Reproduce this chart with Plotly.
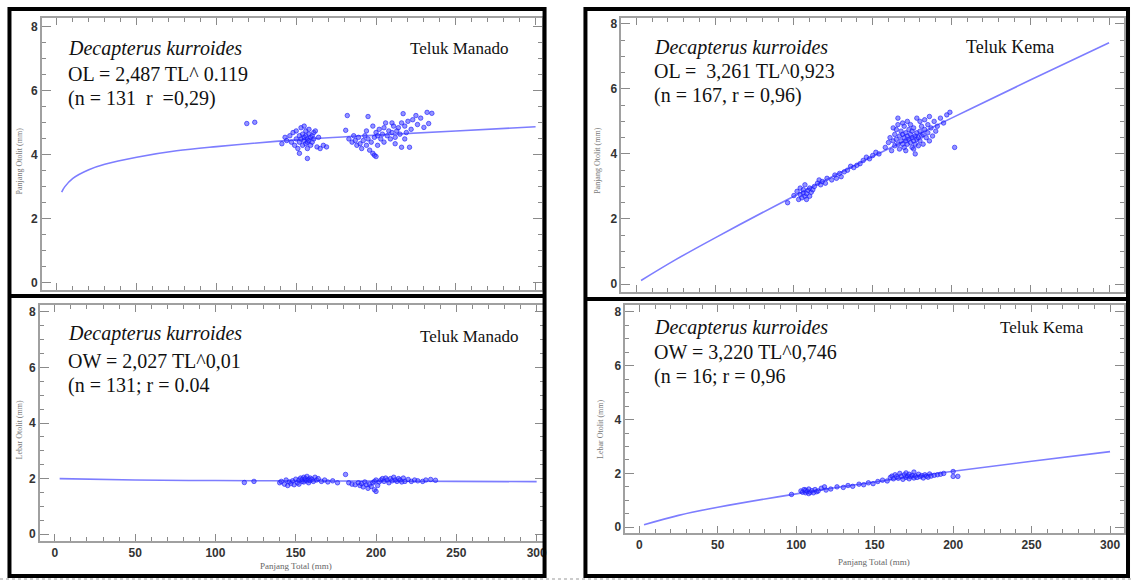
import plotly.graph_objects as go

W, H = 1134, 581

# ---------------- data ----------------
# Top-left: Teluk Manado, otolith length vs total length
tl_manado_ol = [119, 124,
                141, 143, 144, 146, 147, 148, 149, 150, 150, 151, 152, 152, 153, 153, 154, 154, 155, 155,
                155, 156, 156, 156, 157, 157, 157, 158, 158, 158, 159, 159, 160, 160, 161, 161, 162, 163,
                164, 165, 167, 169, 157, 152,
                181, 182, 195, 183, 185, 187, 188, 189, 190, 191, 192, 193, 194, 195, 196, 197, 198, 199,
                199, 200, 201, 201, 202, 203, 204, 205, 205, 206, 207, 208, 209, 210, 210, 211, 212, 213,
                214, 215, 216, 216, 217, 218, 219, 220, 221, 222, 223, 225, 226, 228, 230, 232, 233, 235,
                200, 198, 194, 186, 212, 218]
ol_manado = [4.98, 5.02,
             4.35, 4.55, 4.45, 4.60, 4.40, 4.70, 4.30, 4.50, 4.75, 4.20, 4.60, 4.40, 4.85, 4.50, 4.30, 4.65, 4.45, 4.55,
             4.90, 4.35, 4.60, 4.75, 4.40, 4.50, 4.20, 4.65, 4.45, 4.80, 4.30, 4.55, 4.60, 4.40, 4.70, 4.50, 4.75, 4.25,
             4.55, 4.20, 4.30, 4.25, 3.89, 4.05,
             4.77, 5.23, 5.20, 4.50, 4.40, 4.45, 4.30, 4.55, 4.35, 4.20, 4.45, 4.60, 4.30, 4.50, 4.15, 4.40, 4.05, 3.99,
             4.55, 4.70, 4.30, 4.60, 4.80, 4.50, 4.65, 4.40, 4.85, 5.00, 4.60, 4.75, 4.50, 5.00, 4.70, 4.90, 4.55, 4.75,
             4.85, 4.65, 4.24, 5.00, 5.29, 4.90, 4.70, 5.05, 4.24, 4.80, 5.10, 5.23, 4.95, 5.15, 4.86, 5.33, 4.98, 5.30,
             3.95, 4.90, 4.75, 4.60, 4.35, 4.50]
fit_tl_manado_ol = [3, 5, 10, 20, 30, 50, 75, 100, 150, 200, 250, 300]
fit_ol_manado = [2.84, 3.01, 3.27, 3.54, 3.71, 3.93, 4.13, 4.26, 4.47, 4.62, 4.75, 4.88]

# Top-right: Teluk Kema, otolith length vs total length
tl_kema_ol = [96, 100, 102, 103, 104, 104, 105, 106, 106, 107, 107, 108, 108, 109, 110, 110, 111, 112, 113, 115,
              116, 117, 118, 120, 121, 124, 126, 127, 129, 130, 132, 134, 136, 138, 140, 142, 144, 146, 148, 150,
              152, 154,
              158, 160, 161, 162, 163, 164, 164, 165, 165, 166, 166, 167, 167, 168, 168, 169, 169, 170, 170, 170,
              171, 171, 172, 172, 172, 173, 173, 174, 174, 174, 175, 175, 175, 176, 176, 177, 177, 178, 178, 178,
              179, 179, 180, 180, 181, 181, 182, 182, 183, 183, 184, 185, 185, 186, 187, 188, 189, 190, 191, 193,
              195, 197, 199, 202, 176, 169, 166, 163, 186, 180, 171, 177]
ol_kema = [2.50, 2.72, 2.85, 2.60, 2.95, 2.75, 2.65, 2.80, 2.90, 2.70, 3.05, 2.78, 2.60, 2.88, 2.70, 2.95, 2.82, 2.90, 3.00, 3.10,
           3.20, 3.05, 3.15, 3.10, 3.25, 3.20, 3.35, 3.25, 3.40, 3.30, 3.45, 3.50, 3.62, 3.58, 3.65, 3.70, 3.80, 3.90, 3.85, 3.95,
           4.05, 4.00,
           4.20, 4.35, 4.50, 4.10, 4.40, 4.60, 4.25, 4.75, 4.45, 4.30, 4.90, 4.55, 4.15, 4.40, 4.70, 4.60, 4.30, 4.50, 4.85, 4.20,
           4.40, 4.65, 4.55, 4.30, 5.00, 4.45, 4.75, 4.35, 4.60, 4.90, 4.50, 4.20, 4.70, 4.40, 4.80, 4.55, 4.30, 4.65, 4.45, 5.10,
           4.50, 4.25, 4.70, 4.40, 4.85, 4.55, 4.60, 4.30, 4.75, 5.05, 4.50, 4.65, 4.90, 4.40, 4.80, 4.55, 5.00, 4.70, 4.85, 5.10,
           4.95, 5.20, 5.28, 4.20, 4.15, 4.95, 5.10, 4.80, 5.15, 5.00, 4.10, 4.00]
fit_tl_kema_ol = [3, 25, 50, 100, 150, 200, 250, 300]
fit_ol_kema = [0.11, 0.75, 1.42, 2.70, 3.92, 5.10, 6.27, 7.42]

# Bottom-left: Teluk Manado, otolith width vs total length
tl_manado_ow = [118, 124,
                140, 141, 143, 144, 145, 146, 147, 148, 149, 150, 151, 152, 152, 153, 154, 154, 155, 155,
                156, 156, 157, 157, 158, 158, 159, 159, 160, 161, 162, 163, 164, 166, 168, 170, 173, 176,
                181, 183, 185, 187, 189, 190, 191, 192, 193, 194, 195, 196, 197, 198, 199, 199, 200, 200,
                201, 202, 203, 204, 205, 206, 207, 208, 209, 210, 211, 212, 213, 214, 215, 216, 217, 218,
                220, 222, 224, 226, 229, 231, 234, 237]
ow_manado = [1.86, 1.90,
             1.85, 1.90, 1.80, 1.95, 1.75, 1.88, 1.82, 1.92, 1.78, 1.98, 1.85, 1.95, 1.80, 2.02, 1.90, 1.97, 2.05, 1.88,
             1.95, 2.00, 1.92, 2.08, 1.97, 1.85, 2.02, 1.93, 1.98, 1.90, 2.05, 1.95, 2.00, 1.90, 1.95, 1.88, 1.92, 1.85,
             2.15, 1.85, 1.80, 1.78, 1.85, 1.75, 1.82, 1.70, 1.88, 1.78, 1.65, 1.80, 1.72, 1.85, 1.60, 1.90, 1.54, 1.95,
             1.75, 1.88, 1.95, 2.00, 1.90, 2.02, 1.95, 1.85, 2.00, 1.92, 2.05, 1.95, 1.90, 2.00, 1.95, 1.88, 2.02, 1.90,
             1.97, 1.90, 1.95, 1.92, 1.90, 1.95, 1.97, 1.94]
fit_tl_manado_ow = [3, 50, 100, 150, 200, 250, 300]
fit_ow_manado = [2.00, 1.95, 1.93, 1.92, 1.91, 1.90, 1.89]

# Bottom-right: Teluk Kema, otolith width vs total length
tl_kema_ow = [97, 103, 104, 105, 106, 106, 107, 108, 108, 109, 110, 111, 112, 113, 114, 116, 118, 119, 122, 126,
              130, 133, 136, 140, 143, 146, 149, 152, 155, 158,
              160, 161, 162, 163, 164, 165, 166, 167, 168, 169, 170, 170, 171, 172, 172, 173, 174, 175, 175, 176,
              177, 178, 179, 180, 181, 182, 183, 184, 185, 186, 188, 190, 192, 194, 200, 200, 203]
ow_kema = [1.22, 1.35, 1.30, 1.40, 1.28, 1.38, 1.33, 1.25, 1.42, 1.30, 1.36, 1.28, 1.40, 1.32, 1.35, 1.45, 1.50, 1.38, 1.42, 1.50,
           1.48, 1.55, 1.52, 1.60, 1.58, 1.65, 1.62, 1.70, 1.75, 1.72,
           1.85, 1.90, 1.80, 1.95, 1.88, 1.82, 2.00, 1.90, 1.78, 1.95, 1.85, 2.02, 1.90, 1.80, 1.97, 1.88, 1.93, 1.83, 2.05, 1.90,
           1.85, 1.97, 1.88, 1.92, 1.83, 1.95, 1.90, 1.86, 1.98, 1.90, 1.93, 1.95, 1.97, 2.00, 2.07, 1.89, 1.89]
fit_tl_kema_ow = [3, 25, 50, 100, 150, 200, 250, 300]
fit_ow_kema = [0.09, 0.44, 0.74, 1.24, 1.68, 2.08, 2.45, 2.81]

y_ticks = [0, 2, 4, 6, 8]
x_ticks = [0, 50, 100, 150, 200, 250, 300]

# ---------------- helpers ----------------
def fx(px):
    return px / W

def fy(py):
    return 1 - py / H

MARK = dict(size=4.5, color="rgba(60,60,255,0.55)", line=dict(color="rgba(20,20,255,0.75)", width=0.8))
LINE = dict(color="rgb(125,125,255)", width=1.6)

fig = go.Figure()
panels = [
    ("", tl_manado_ol, ol_manado, fit_tl_manado_ol, fit_ol_manado),
    ("2", tl_kema_ol, ol_kema, fit_tl_kema_ol, fit_ol_kema),
    ("3", tl_manado_ow, ow_manado, fit_tl_manado_ow, fit_ow_manado),
    ("4", tl_kema_ow, ow_kema, fit_tl_kema_ow, fit_ow_kema),
]
for suf, xs, ys, fxs, fys in panels:
    fig.add_trace(go.Scatter(x=fxs, y=fys, mode="lines", line=LINE, line_shape="spline",
                             xaxis="x" + suf, yaxis="y" + suf, showlegend=False, hoverinfo="skip"))
    fig.add_trace(go.Scatter(x=xs, y=ys, mode="markers", marker=MARK,
                             xaxis="x" + suf, yaxis="y" + suf, showlegend=False))

tickfont = dict(family="Liberation Sans", size=12, color="#333", weight="bold")

def xax(domain, rng, anchor, labels):
    return dict(domain=domain, range=rng, anchor=anchor, showgrid=False, zeroline=False,
                showline=True, linecolor="#a0a0a0", linewidth=1.5, mirror="ticks",
                ticks="inside", ticklen=7, tickcolor="#8a8a8a", tickwidth=1,
                tickvals=x_ticks, showticklabels=labels, tickfont=tickfont,
                minor=dict(dtick=10, tick0=0, ticks="inside", ticklen=4, tickcolor="#8a8a8a"))

def yax(domain, rng, anchor):
    return dict(domain=domain, range=rng, anchor=anchor, showgrid=False, zeroline=False,
                showline=True, linecolor="#a0a0a0", linewidth=1.5, mirror="ticks",
                ticks="inside", ticklen=9, tickcolor="#8a8a8a", tickwidth=1,
                tickvals=y_ticks, tickfont=tickfont,
                minor=dict(dtick=0.5, tick0=0, ticks="inside", ticklen=4, tickcolor="#8a8a8a"))

fig.update_layout(
    width=W, height=H, margin=dict(l=0, r=0, t=0, b=0),
    paper_bgcolor="white", plot_bgcolor="white",
    xaxis=xax([fx(42), fx(543)], [-9.4, 303.75], "y", False),
    yaxis=yax([fy(290), fy(17)], [-0.22, 8.28], "x"),
    xaxis2=xax([fx(623), fx(1127)], [-9.5, 309.5], "y2", False),
    yaxis2=yax([fy(292), fy(17)], [-0.245, 8.18], "x2"),
    xaxis3=xax([fx(40), fx(545)], [-9.3, 304.3], "y3", True),
    yaxis3=yax([fy(542), fy(305)], [-0.25, 8.25], "x3"),
    xaxis4=xax([fx(627), fx(1127)], [-8.9, 308.9], "y4", True),
    yaxis4=yax([fy(534), fy(305)], [-0.22, 8.26], "x4"),
)

# ---------------- text ----------------
SERIF = "Liberation Serif"
def txt(px, py, s, size=20, anchor="left", color="#111", angle=0, family=SERIF):
    fig.add_annotation(x=fx(px), y=fy(py), xref="paper", yref="paper", text=s, showarrow=False,
                       xanchor=anchor, yanchor="middle", textangle=angle,
                       font=dict(family=family, size=size, color=color))

txt(66, 48, "<i>Decapterus kurroides</i>")
txt(66, 73, "OL = 2,487 TL^ 0.119")
txt(66, 98, "(n = 131  r  =0,29)")
txt(460, 48, "Teluk Manado", size=17, anchor="center")

txt(654, 47, "<i>Decapterus kurroides</i>")
txt(654, 70, "OL =  3,261 TL^0,923")
txt(654, 95, "(n = 167, r = 0,96)")
txt(1013, 46, "Teluk Kema", size=18, anchor="center")

txt(66, 334, "<i>Decapterus kurroides</i>")
txt(66, 361, "OW = 2,027 TL^0,01")
txt(66, 386, "(n = 131; r = 0.04")
txt(470, 337, "Teluk Manado", size=17, anchor="center")

txt(654, 328, "<i>Decapterus kurroides</i>")
txt(654, 352, "OW = 3,220 TL^0,746")
txt(654, 377, "(n = 16; r = 0,96")
txt(1045, 328, "Teluk Kema", size=17, anchor="center")

# axis titles
txt(20, 160, "Panjang Otolit (mm)", size=8, anchor="center", color="#777", angle=-90)
txt(599, 160, "Panjang Otolit (mm)", size=8, anchor="center", color="#777", angle=-90)
txt(20, 430, "Lebar Otolit (mm)", size=8, anchor="center", color="#777", angle=-90)
txt(602, 430, "Lebar Otolit (mm)", size=8, anchor="center", color="#777", angle=-90)
txt(297, 567, "Panjang Total (mm)", size=9, anchor="center", color="#666")
txt(876, 563, "Panjang Total (mm)", size=9, anchor="center", color="#666")

# ---------------- black panel borders ----------------
def box(x0, y0, x1, y1):
    fig.add_shape(type="rect", xref="paper", yref="paper", x0=fx(x0), x1=fx(x1), y0=fy(y1), y1=fy(y0),
                  line=dict(color="black", width=4), fillcolor="rgba(0,0,0,0)", layer="above")

def hline(x0, x1, y, width=4, color="black", dash="solid"):
    fig.add_shape(type="line", xref="paper", yref="paper", x0=fx(x0), x1=fx(x1), y0=fy(y), y1=fy(y),
                  line=dict(color=color, width=width, dash=dash), layer="above")

box(9.5, 8, 546, 577)
hline(9.5, 546, 296)
box(587, 8, 1131, 577)
hline(587, 1131, 299)
hline(0, 1134, 580, width=1, color="#999", dash="dot")

fig.write_html("out.html")
